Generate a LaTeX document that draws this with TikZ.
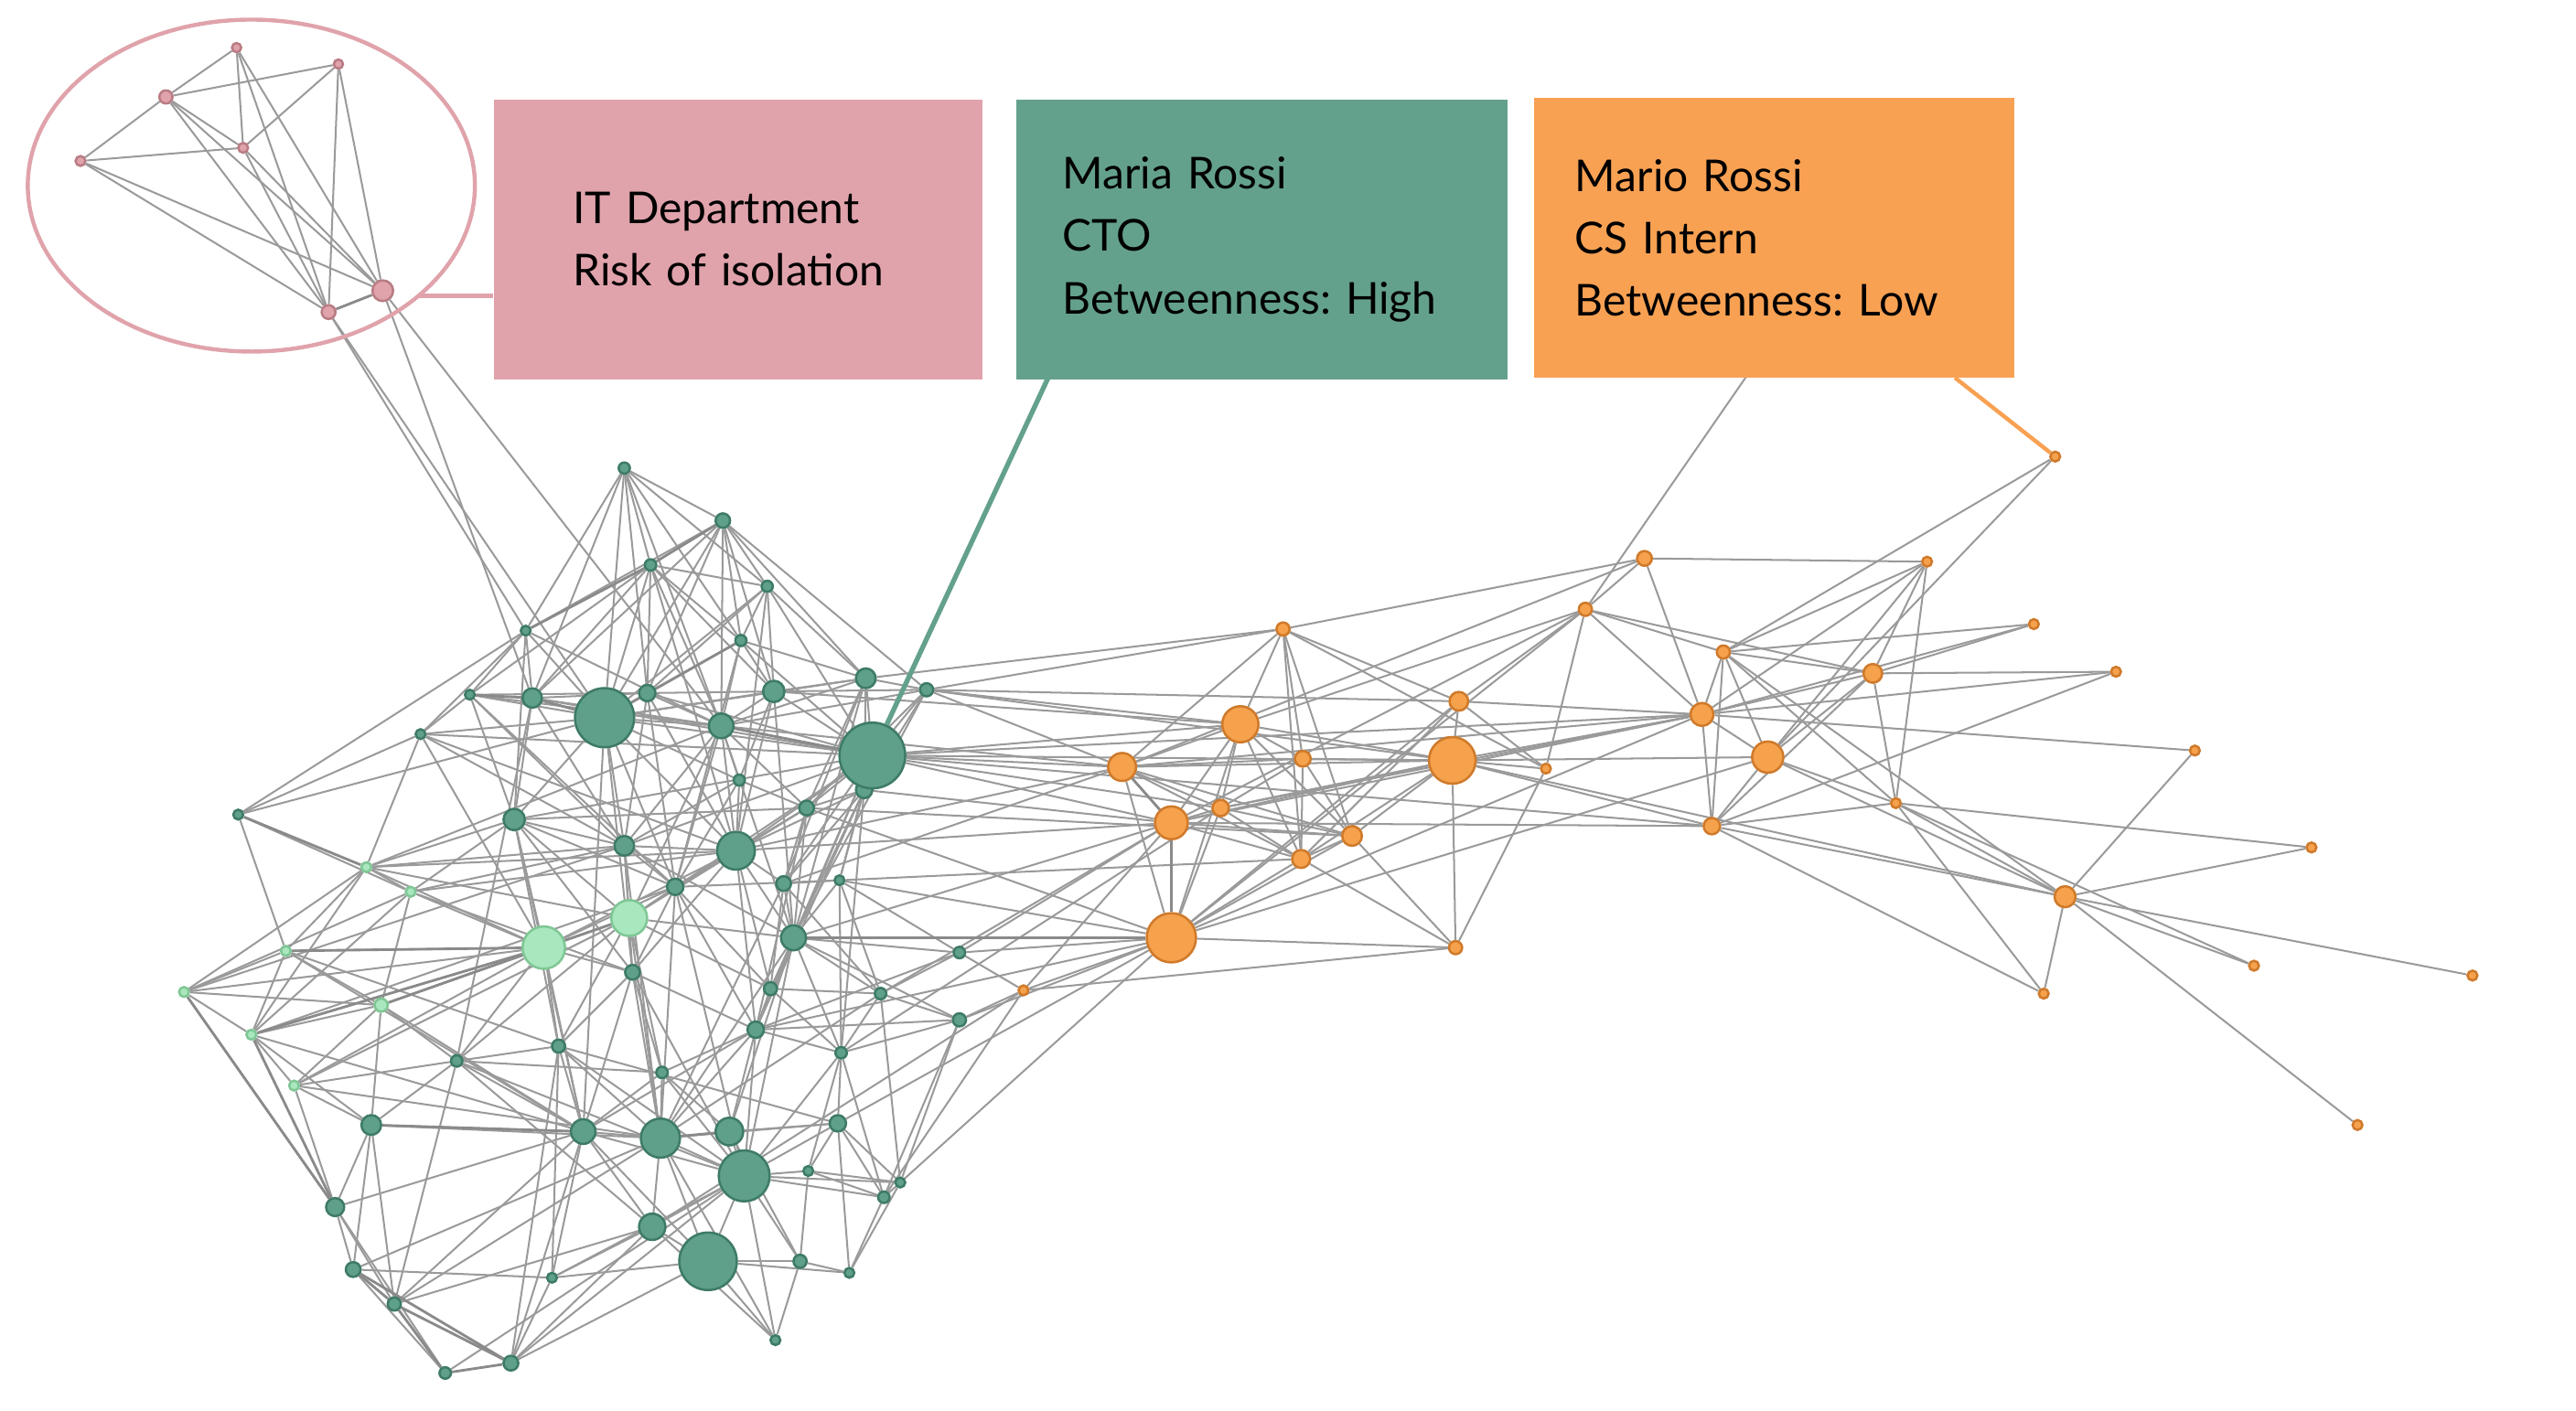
\documentclass[tikz,border=0pt]{standalone}
\usepackage{fontspec}
\setmainfont{Lato}
\frenchspacing
\usetikzlibrary{shapes.geometric, positioning}
\pgfdeclarelayer{background}
\pgfsetlayers{background,main}

\definecolor{itpink}{HTML}{E0A3AB}
\definecolor{pinkline}{HTML}{B97C84}
\definecolor{ctogreen}{HTML}{64A18C}
\definecolor{greenfill}{HTML}{5FA08A}
\definecolor{greenline}{HTML}{3E7B66}
\definecolor{lightfill}{HTML}{A9E7BE}
\definecolor{lightline}{HTML}{7FC795}
\definecolor{internorange}{HTML}{F8A153}
\definecolor{orangefill}{HTML}{F6A14B}
\definecolor{orangeline}{HTML}{CF7A2B}
\definecolor{edgegray}{HTML}{9A9A9A}
\definecolor{edgedark}{HTML}{8A8A8A}

\tikzset{
  dot/.style={circle, inner sep=0pt, line width=0.4pt},
  pn/.style={dot, fill=itpink, draw=pinkline, minimum size=#1*0.2mm},
  gn/.style={dot, fill=greenfill, draw=greenline, minimum size=#1*0.2mm},
  ln/.style={dot, fill=lightfill, draw=lightline, minimum size=#1*0.2mm},
  on/.style={dot, fill=orangefill, draw=orangeline, minimum size=#1*0.2mm},
  edge/.style={draw=edgegray, line width=0.32pt},
  heavy/.style={draw=edgedark, line width=0.45pt},
  infobox/.style={rectangle, anchor=north west, inner ysep=0pt, align=left,
    minimum height=1.70cm, font=\fontsize{7.6}{10.8}\selectfont},
  itring/.style={ellipse, draw=itpink, line width=0.7pt, inner sep=0pt,
    minimum width=2.72cm, minimum height=2.02cm},
}

\begin{document}
\begin{tikzpicture}[x=0.01cm, y=-0.01cm]
\useasboundingbox (0,0) rectangle (1568,859);

% IT department
\node[itring] (itcircle) at (153,113) {};
\node[pn=2.8] (p1) at (144,29) {};
\node[pn=2.8] (p2) at (206,39) {};
\node[pn=4]   (p3) at (101,59) {};
\node[pn=3]   (p4) at (148,90) {};
\node[pn=3]   (p5) at (49,98) {};
\node[pn=6.3] (p6) at (233,177) {};
\node[pn=4.2] (p7) at (200,190) {};

% main cluster
\node[gn=3.4] (g1) at (380,285) {};
\node[gn=4.4] (g2) at (440,317) {};
\node[gn=3.5] (g3) at (396,344) {};
\node[gn=3.4] (g4) at (467,357) {};
\node[gn=3]   (g5) at (320,384) {};
\node[gn=3.4] (g6) at (451,390) {};
\node[gn=6]   (g7) at (527,413) {};
\node[gn=6.5] (g8) at (471,421) {};
\node[gn=4]   (g9) at (564,420) {};
\node[gn=3]   (g10) at (286,423) {};
\node[gn=5.9] (g11) at (324,425) {};
\node[gn=18]  (g12) at (368,437) {};
\node[gn=5]   (g13) at (394,422) {};
\node[gn=7.5] (g14) at (439,442) {};
\node[gn=3]   (g15) at (256,447) {};
\node[gn=5]   (g17) at (526,481) {};
\node[gn=20]  (g16) at (531,460) {};
\node[gn=3.4] (g18) at (450,475) {};
\node[gn=4.5] (g19) at (491,492) {};
\node[gn=3]   (g20) at (145,496) {};
\node[gn=6.5] (g21) at (313,499) {};
\node[gn=6]   (g22) at (380,515) {};
\node[gn=11.5] (g23) at (448,518) {};
\node[gn=5]   (g24) at (411,540) {};
\node[gn=4.5] (g25) at (477,538) {};
\node[gn=3]   (g26) at (511,536) {};
\node[gn=7.6] (g27) at (483,571) {};
\node[gn=4.5] (g28) at (385,592) {};
\node[gn=4]   (g29) at (469,602) {};
\node[gn=3.5] (g30) at (584,580) {};
\node[gn=3.5] (g31) at (536,605) {};
\node[gn=4]   (g32) at (584,621) {};
\node[gn=5]   (g33) at (460,627) {};
\node[gn=4]   (g34) at (340,637) {};
\node[gn=3.5] (g35) at (512,641) {};
\node[gn=3.5] (g36) at (278,646) {};
\node[gn=3.5] (g37) at (403,653) {};
\node[gn=6]   (g39) at (226,685) {};
\node[gn=7.5] (g40) at (355,689) {};
\node[gn=11.9] (g41) at (402,693) {};
\node[gn=8.4] (g42) at (444,689) {};
\node[gn=5]   (g43) at (510,684) {};
\node[gn=3]   (g44) at (492,713) {};
\node[gn=15.5] (g45) at (453,716) {};
\node[gn=3]   (g46) at (548,720) {};
\node[gn=3.5] (g47) at (538,729) {};
\node[gn=5.5] (g48) at (204,735) {};
\node[gn=8]   (g49) at (397,747) {};
\node[gn=17.5] (g50) at (431,768) {};
\node[gn=4.5] (g51) at (215,773) {};
\node[gn=4]   (g52) at (240,794) {};
\node[gn=3]   (g53) at (336,778) {};
\node[gn=4]   (g54) at (487,768) {};
\node[gn=3]   (g55) at (517,775) {};
\node[gn=3]   (g56) at (472,816) {};
\node[gn=4.5] (g57) at (311,830) {};
\node[gn=3.5] (g58) at (271,836) {};

\node[ln=3]   (l1) at (223,528) {};
\node[ln=3]   (l2) at (250,543) {};
\node[ln=3]   (l3) at (174,579) {};
\node[ln=3]   (l4) at (112,604) {};
\node[ln=3]   (l5) at (153,630) {};
\node[ln=4]   (l6) at (232,612) {};
\node[ln=3]   (l7) at (179,661) {};
\node[ln=12.9] (l8) at (331,577) {};
\node[ln=10.9] (l9) at (383,559) {};

% interns and other wing
\node[on=3]   (o1) at (1251,278) {};
\node[on=4.5] (o2) at (1001,340) {};
\node[on=3]   (o3) at (1173,342) {};
\node[on=4]   (o4) at (781,383) {};
\node[on=4]   (o5) at (965,371) {};
\node[on=4]   (o6) at (1049,397) {};
\node[on=3]   (o7) at (1238,380) {};
\node[on=3]   (o8) at (1288,409) {};
\node[on=5.7] (o9) at (1140,410) {};
\node[on=5.7] (o10) at (888,427) {};
\node[on=11]  (o11) at (755,441) {};
\node[on=7]   (o12) at (1036,435) {};
\node[on=9.5] (o13) at (1076,461) {};
\node[on=14.2] (o14) at (884,463) {};
\node[on=8.5] (o15) at (683,467) {};
\node[on=4.8] (o16) at (793,462) {};
\node[on=3]   (o17) at (941,468) {};
\node[on=3]   (o18) at (1336,457) {};
\node[on=3]   (o19) at (1154,489) {};
\node[on=10]  (o20) at (713,501) {};
\node[on=5]   (o21) at (743,492) {};
\node[on=6]   (o22) at (823,509) {};
\node[on=5]   (o23) at (1042,503) {};
\node[on=3]   (o24) at (1407,516) {};
\node[on=5.5] (o25) at (792,523) {};
\node[on=6.4] (o26) at (1257,546) {};
\node[on=15]  (o27) at (713,571) {};
\node[on=4]   (o28) at (886,577) {};
\node[on=3]   (o29) at (623,603) {};
\node[on=3]   (o30) at (1244,605) {};
\node[on=3]   (o31) at (1372,588) {};
\node[on=3]   (o32) at (1505,594) {};
\node[on=3]   (o33) at (1435,685) {};

\coordinate (hiddenend) at (1068,222);

\begin{pgfonlayer}{background}
\foreach \a/\b in {p1/p3, p1/p4, p1/p7, p1/p6, p3/p2, p3/p5, p3/p4, p3/p6, p3/p7,
  p4/p2, p4/p5, p4/p7, p4/p6, p2/p7, p2/p6, p5/p6, p5/p7,
  p7/g5, p7/g12, p6/g11, p6/g14,
  g1/g2, g1/g3, g1/g4, g1/g5, g1/g11, g1/g13, g1/g6, g1/g12, g1/g14,
  g2/g4, g2/g6, g2/g7, g2/g9, g2/g13, g2/g8, g2/g11, g2/g12, g2/g5, g2/g14,
  g3/g4, g3/g11, g3/g12, g3/g13, g3/g6, g3/g8, g3/g10, g3/g14, g3/g23,
  g4/g6, g4/g8, g4/g13, g4/g12, g4/g16, g4/g7, g4/g23,
  g5/g10, g5/g11, g5/g12, g5/g15, g5/g20, g5/g14, g5/g21,
  g6/g13, g6/g8, g6/g14, g6/g24, g6/g7, g6/g16,
  g7/g8, g7/g9, g7/g16, g7/g17, g7/g25, g7/g14, g7/g19, g7/g12, g7/g27,
  g8/g13, g8/g14, g8/g23, g8/g18, g8/g12, g8/g16, g8/g9, g8/g27,
  g9/g16, g9/g17, g9/g19, g9/g14, g9/g27,
  g10/g12, g10/g15, g10/g22, g10/g14, g10/g13, g10/g21, g10/g24,
  g11/g21, g11/g13, g11/g36, g11/g22, g11/g14, g11/g16,
  g12/g13, g12/g14, g12/g22, g12/g28, g12/g21, g12/g23, g12/g16, g12/g24,
  g12/g40, g12/g18, g12/g15, g12/g20,
  g13/g14, g13/g24, g13/g22, g13/g16, g13/g23,
  g14/g23, g14/g18, g14/g19, g14/g27, g14/g24, g14/g22, g14/l1, g14/l9,
  g15/g20, g15/l1, g15/g23, g15/l8, g15/g16, g15/g22,
  g16/g19, g16/g23, g16/g25, g16/g26, g16/g22, g16/g27, g16/l9, g16/g33,
  g17/g25, g17/g19, g17/g26, g17/g27, g17/g33, g17/g23, g17/g35,
  g18/g23, g18/g22, g18/g24, g18/g19,
  g19/g23, g19/g24, g19/g25, g19/l9, g19/g27, g19/g21, g19/g33,
  g20/l2, g20/l3,
  g21/l1, g21/g22, g21/l9, g21/g24, g21/l8, g21/l2, g21/g16, g21/g28, g21/g34, g21/g40,
  g22/g23, g22/g24, g22/g28, g22/l9, g22/l2, g22/g27, g22/g41,
  g23/g24, g23/g25, g23/g27, g23/l8, g23/g28, g23/g33, g23/l9, g23/g29,
  g24/g28, g24/g33, g24/g26, g24/l8, g24/g29, g24/g41, g24/g45,
  g25/g26, g25/g27, g25/g29, g25/g31, g25/g41,
  g26/g30, g26/g31, g26/g27, g26/g35,
  g27/g29, g27/g33, g27/g31, g27/g45, g27/g41, g27/g30, g27/g32, g27/g35, g27/l9, g27/g42,
  g28/g40, g28/g41, g28/g37, g28/l8, g28/g34, g28/g33, g28/g45,
  g29/g31, g29/g33, g29/g35, g29/l9,
  g30/g31, g30/g33,
  g31/g35, g31/g46, g31/g32, g31/g41,
  g32/g33, g32/g47, g32/g46, g32/g35,
  g33/g41, g33/g42, g33/g45, g33/g35, g33/g37, g33/g40,
  g34/g36, g34/g40, g34/g41, g34/g57, g34/g53, g34/l9, g34/g43, g34/l8, g34/g45,
  g35/g43, g35/g47, g35/g45, g35/g44,
  g36/g39, g36/g40, g36/g52, g36/g37, g36/l9, g36/g49, g36/l6, g36/l7, g36/l8, g36/g45,
  g37/g40, g37/g41, g37/g42, g37/l9, g37/g45,
  g39/g40, g39/g48, g39/g51, g39/g52, g39/l5, g39/l7, g39/l6, g39/g41,
  g40/g41, g40/g49, g40/g53, g40/g57, g40/g52, g40/g45, g40/g48, g40/l6, g40/l8, g40/g50,
  g41/g42, g41/g45, g41/g49, g41/g50, g41/g56, g41/g43, g41/g52, g41/l9, g41/g51,
  g42/g45, g42/g43, g42/g54,
  g43/g47, g43/g46, g43/g55, g43/g45, g43/g44,
  g44/g46, g44/g47, g44/g54, g44/g45,
  g45/g50, g45/g54, g45/g56, g45/g46, g45/g47, g45/g49, g45/g57, g45/g53,
  g46/g47, g46/g55, g47/g55,
  g48/g51, g48/g52, g48/g58, g48/l4, g48/l7,
  g49/g50, g49/g53, g49/g56, g49/g57, g49/g52,
  g50/g53, g50/g54, g50/g56, g50/g55,
  g51/g58, g51/g53,
  g53/g57, g54/g55, g54/g56, g57/g50, g58/g45,
  l1/l2, l1/l3, l1/l4, l1/l5, l1/l9, l1/l8, l1/g22, l1/g23,
  l2/l8, l2/l4, l2/l5, l2/l6, l2/g28, l2/g23,
  l3/l8, l3/l6, l3/l5, l3/l4, l3/g34, l3/g40,
  l4/l5, l4/l6, l4/l8, l4/g22,
  l5/l6, l5/l7, l5/g40, l5/g24,
  l6/l9, l6/l7, l7/l8, l7/l9, l7/g41,
  g16/o15, g16/o11, g16/o14, g16/o20, g16/o12, g16/o21, g16/o23,
  g9/o4, g7/o4, g9/o11, g9/o15, g9/o14, g9/o10,
  g17/o20, g19/o27, g26/o27, g27/o20, g27/o27, g30/o27, g32/o27, g30/o20, g31/o20,
  g25/o15, g23/o15, g33/o27, g35/o21,
  o29/o28, o29/g30, o29/g32, o29/o20, o29/o27, g47/o29, g46/o27, g43/o27, g49/o29,
  g14/o15, g8/o11, g23/o20, g19/o22, g26/o25,
  o1/o6, o1/o13,
  o2/o4, o2/o5, o2/o12, o2/o3, o2/o15,
  o3/o6, o3/o12, o3/o9, o3/o19, o3/o13,
  o4/o15, o4/o11, o4/o25, o4/o16, o4/o22, o4/o10, o4/o17,
  o5/o9, o5/o12, o5/o17, o5/o10, o5/o20, o5/o27, o5/o11, o5/o6, o5/hiddenend,
  o6/o9, o6/o12, o6/o13, o6/o19, o6/o26, o6/o23,
  o7/o6, o7/o9, o7/o12,
  o8/o9, o8/o12, o8/o23,
  o9/o12, o9/o13, o9/o23, o9/o19,
  o10/o14, o10/o17, o10/o12, o10/o27, o10/o25,
  o11/o15, o11/o20, o11/o16, o11/o22, o11/o14, o11/o25, o11/o27, o11/o21,
  o12/o13, o12/o23, o12/o14, o12/o15, o12/o20, o12/o18, o12/o21,
  o13/o23, o13/o26, o13/o19, o13/o14, o13/o27,
  o14/o15, o14/o20, o14/o21, o14/o16, o14/o28, o14/o17, o14/o22, o14/o25,
  o14/o23, o14/o26,
  o15/o20, o15/o16, o15/o22, o15/o25, o15/o27, o15/o21,
  o16/o25, o16/o22, o16/o21,
  o18/o26,
  o19/o24, o19/o26, o19/o30, o19/o31, o19/o23,
  o20/o27, o20/o21, o20/o25, o20/o22, o20/o23,
  o21/o22, o21/o25, o21/o27,
  o22/o28, o22/o25, o22/o27,
  o23/o26, o23/o30, o24/o26,
  o25/o28, o25/o27,
  o26/o31, o26/o32, o26/o30, o26/o33,
  o27/o28, o27/o12, o28/o17}
  \draw[edge] (\a) -- (\b);
% heavier ties
\foreach \a/\b in {p6/p7, g2/g3, g3/g5, g10/g11, g11/g12, g6/g12, g14/g16,
  l3/l8, l5/l8, l6/l8, l8/l9, g52/g57, g51/g57, g51/g52, g52/g58, g57/g58,
  g39/g40, g42/g41, g20/l1, l4/g48, l5/g48, g27/o27, o15/o20, o20/o27}
  \draw[heavy] (\a) -- (\b);
\end{pgfonlayer}

% callouts
\node[infobox, fill=itpink, minimum width=2.97cm, text width=2.01cm, inner xsep=0.48cm]
  (itbox) at (300,60) {IT Department\\Risk of isolation};
\node[infobox, fill=ctogreen, minimum width=2.99cm, text width=2.43cm, inner xsep=0.28cm]
  (ctobox) at (618,60) {Maria Rossi\\CTO\\Betweenness: High};
\node[infobox, fill=internorange, minimum width=2.92cm, text width=2.42cm, inner xsep=0.25cm]
  (internbox) at (933,59) {Mario Rossi\\CS Intern\\Betweenness: Low};

\coordinate (itlink) at (255,180);
\coordinate (ctotail) at (638,230);
\coordinate (interntail) at (1190,230);
\draw[itpink, line width=0.7pt] (itlink) -- (itlink -| itbox.west);
\draw[ctogreen, line width=0.85pt] (ctotail) -- (g16);
\draw[internorange, line width=0.7pt] (interntail) -- (o1);

\end{tikzpicture}
\end{document}
